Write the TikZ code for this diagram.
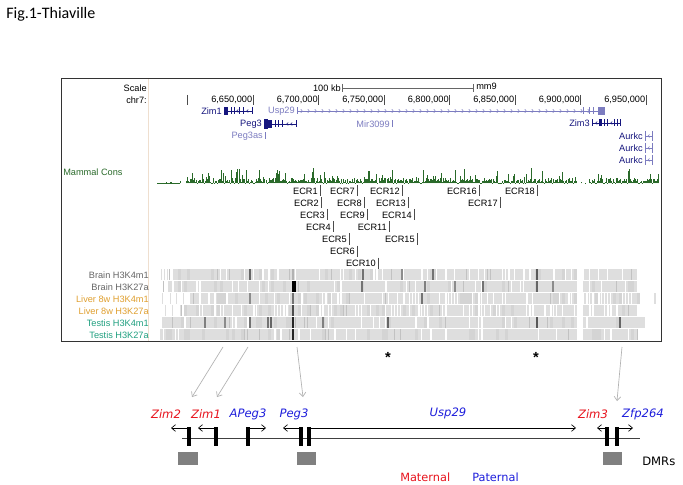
\documentclass[tikz,border=0pt]{standalone}
\usepackage{fontspec}
\setmainfont{Liberation Sans}
\newfontfamily\titlefont{Carlito}
\newfontfamily\verd{DejaVu Sans}
\usetikzlibrary{arrows.meta}
\definecolor{navy}{HTML}{16167E}
\definecolor{lpurp}{HTML}{7C7CC0}
\definecolor{consgreen}{HTML}{2A6A2A}
\definecolor{livercol}{HTML}{E0A030}
\definecolor{testiscol}{HTML}{20A080}
\definecolor{mred}{HTML}{E8141E}
\definecolor{pblue}{HTML}{1E1EDC}
\tikzset{
  brow/.style={font=\fontsize{6.9}{8}\selectfont, inner sep=0pt},
  ecr/.style={brow, anchor=east},
  ecrbar/.style={draw=black!70, line width=0.4pt},
  glabel/.style={font=\verd\itshape\fontsize{8.7}{10}\selectfont, inner sep=0pt},
  genebar/.style={line width=2.3pt, black},
  tss/.style={line width=0.5pt, black, -{Straight Barb[length=3pt,width=5pt]}},
  dmr/.style={fill=black!50, draw=none},
  pointer/.style={draw=black!30, line width=0.5pt, -{Straight Barb[length=3pt,width=5pt]}},
}
\begin{document}
\begin{tikzpicture}[x=0.75pt,y=-0.75pt]
\useasboundingbox (0,0) rectangle (683,485);
\fill[white] (0,0) rectangle (683,485);
% title
\node[anchor=west, inner sep=0pt, font=\titlefont\fontsize{12}{14}\selectfont] (title) at (6,14) {Fig.1-Thiaville};

% ---------- heat map tracks ----------
\pgfmathsetseed{4321}
\foreach \r/\th/\st in {0/22/172,1/14/168,2/40/190,3/42/186,4/16/162,5/12/160}{
  \fill[black!13] (\st, 269+12*\r) rectangle (637, 280+12*\r);
  \foreach \i in {0,...,159}{
    \pgfmathrandominteger{\v}{0}{100}
    \pgfmathsetmacro{\xx}{160+3*\i}
    \ifnum\v<\th
      \pgfmathsetmacro{\ww}{\v<\th/3 ? 2.2 : 1.1}
      \fill[white] (\xx, 269+12*\r) rectangle ++(\ww,11);
    \else
      \ifnum\v>96
        \fill[black!24] (\xx, 269+12*\r) rectangle ++(1.2,11);
      \else
        \ifnum\v>80
          \fill[black!17] (\xx, 269+12*\r) rectangle ++(2.5,11);
        \fi
      \fi
    \fi
  }
}
% sparse starts
\foreach \x/\r in {161/0,164/0,167/0,162/2,170/2,176/2,183/2,165/3,172/3,180/3}{
  \fill[black!13] (\x, 269+12*\r) rectangle ++(1.3,11);
}
% darker marks
\foreach \x/\r/\g in {250/0/60,363/0/55,402/0/45,433/0/55,537/0/65,293/0/30,
  293/1/100,295/1/100,362/1/55,425/1/50,455/1/45,483/1/55,537/1/60,553/1/45,
  293/2/55,250/2/45,422/2/55,
  293/3/70,
  205/4/50,225/4/45,250/4/55,268/4/55,271/4/60,293/4/85,323/4/50,388/4/60,537/4/65,620/4/60,
  293/5/85}{
  \fill[black!\g] (\x-0.6, 269+12*\r) rectangle ++(1.4,11);
}
\fill[black!100] (291.5,281) rectangle (295.5,292);
\fill[white] (577,268.5) rectangle (583,340.5);
\fill[black!13] (637,317) rectangle (645,328);
\fill[black!13] (654,293) rectangle (656,304);

% ---------- frame ----------
\draw[draw=black!80, line width=0.75pt] (61,79) rectangle (661,341);
\draw[draw=brown!25, line width=0.5pt] (148,79.5) -- (148,340.5);

% ---------- scale row ----------
\node[brow, anchor=east] (scalelab) at (147,88) {Scale};
\node[brow, anchor=east] (kb) at (341,88) {100 kb};
\coordinate (sbl) at (342,88);
\coordinate (sbr) at (473,88);
\draw[black!60, line width=0.4pt] (sbl) -- (sbr);
\draw[black!60, line width=0.4pt] (342,84) -- (342,92) (473,84) -- (473,92);
\node[brow, anchor=west] (mm9) at (476,86) {mm9};

% ---------- chr7 row ----------
\node[brow, anchor=east] (chrlab) at (147,100) {chr7:};
\draw[black!70, line width=0.4pt] (187,95) -- (187,105);
\foreach \k/\lab in {0/{6,650,000},1/{6,700,000},2/{6,750,000},3/{6,800,000},4/{6,850,000},5/{6,900,000},6/{6,950,000}}{
  \pgfmathsetmacro{\tx}{253+65.5*\k}
  \draw[black!70, line width=0.4pt] (\tx,95) -- (\tx,105);
  \node[brow, anchor=east] at (\tx-0.5,100) {\lab};
}

% ---------- genes ----------
% Zim1
\node[brow, anchor=east, text=navy] (zim1lab) at (222,111) {Zim1};
\fill[navy] (224,107) rectangle (228,115);
\draw[navy, line width=0.5pt] (228,111) -- (252,111);
\foreach \x in {231,234,239,243,252} \draw[navy, line width=0.5pt] (\x,107.5) -- (\x,114.5);
\foreach \x in {237,247} \draw[navy, line width=0.4pt] (\x+1.2,109.5) -- (\x-0.3,111) -- (\x+1.2,112.5);
% Usp29
\node[brow, anchor=east, text=lpurp] (usp29lab) at (295,111) {Usp29};
\draw[lpurp, line width=0.5pt] (297,111) -- (605,111);
\draw[lpurp, line width=0.5pt] (297,107.5) -- (297,114.5);
\foreach \x in {302,309,...,590} \draw[lpurp, line width=0.4pt] (\x-1.2,109.3) -- (\x+0.3,111) -- (\x-1.2,112.7);
\foreach \x in {583,589,593} \draw[lpurp, line width=0.5pt] (\x,107.5) -- (\x,114.5);
\fill[lpurp] (598,107) rectangle (605,115);
% Peg3
\node[brow, anchor=east, text=navy] (peg3lab) at (262,124) {Peg3};
\fill[navy] (264,119) rectangle (268,129);
\fill[navy] (268,120) rectangle (272,128);
\draw[navy, line width=0.5pt] (272,124) -- (296,124);
\foreach \x in {275,278,282,296} \draw[navy, line width=0.5pt] (\x,120.5) -- (\x,127.5);
\foreach \x in {287,291} \draw[navy, line width=0.4pt] (\x+1.2,122.5) -- (\x-0.3,124) -- (\x+1.2,125.5);
% Mir3099
\node[brow, anchor=east, text=lpurp] (mirlab) at (390,124) {Mir3099};
\draw[lpurp, line width=0.5pt] (392.5,120.5) -- (392.5,127.5);
% Peg3as
\node[brow, anchor=east, text=lpurp] (peg3aslab) at (263,136) {Peg3as};
\draw[lpurp, line width=0.5pt] (265.5,132.5) -- (265.5,139.5);
% Zim3
\node[brow, anchor=east, text=navy] (zim3lab) at (590,123) {Zim3};
\draw[navy, line width=0.5pt] (592,123) -- (620,123);
\fill[navy] (599,119.5) rectangle (602,126.5);
\foreach \x in {592,604,607,614,617,620} \draw[navy, line width=0.5pt] (\x,119.5) -- (\x,126.5);
\foreach \x in {596,611} \draw[navy, line width=0.4pt] (\x+1.2,121.5) -- (\x-0.3,123) -- (\x+1.2,124.5);
% Aurkc
\foreach \y in {136,148,160}{
  \node[brow, anchor=east, text=navy] at (643,\y) {Aurkc};
  \draw[lpurp, line width=0.5pt] (645,\y) -- (652,\y);
  \draw[lpurp, line width=0.6pt] (645,\y-5) -- (645,\y+5) (652,\y-5) -- (652,\y+5);
  \draw[lpurp, line width=0.4pt] (649.5,\y-1.5) -- (648,\y) -- (649.5,\y+1.5);
}

% ---------- Mammal Cons ----------
\node[brow, anchor=west, text=consgreen] (conslab) at (63,172) {Mammal Cons};
\pgfmathsetseed{99}
\foreach \i in {186,...,658}{
  \pgfmathrandominteger{\hh}{0}{100}
  \pgfmathsetmacro{\ht}{\hh<30 ? \hh/15 : (\hh<85 ? 2+(\hh-30)/16 : (\hh<96 ? 5.5+(\hh-85)/2.5 : 10+(\hh-96)*1.2))}
  \draw[consgreen, line width=0.45pt] (\i,183.5) -- ++(0,-\ht);
}
\fill[white] (577,165) rectangle (588,183.6);
\foreach \x/\h in {160/0.6,163/0.5,166/1,170/1.5,171/1,174/0.5,180/2,581/1,585/0.6} \draw[consgreen, line width=0.45pt] (\x,183.5) -- ++(0,-\h);
\draw[consgreen, line width=0.45pt] (157,183.5) -- (180,183.5);
\foreach \x/\h in {239/14,313/15,531/15,423/13,497/12} \draw[consgreen, line width=0.45pt] (\x,183.5) -- ++(0,-\h);

% ---------- ECR elements ----------
\foreach \n/\x/\y in {1/320/191,7/357/191,12/402/191,16/479/191,18/537/191,
  2/321/203,8/364/203,13/408/203,17/500/203,
  3/327/215,9/367/215,14/414/215,
  4/333/227,11/389/227,
  5/349/239,15/417/239,
  6/357/251,
  10/378/263}{
  \node[ecr] (ecr\n) at (\x-2,\y) {ECR\n};
  \draw[ecrbar] (\x,\y-5.5) -- (\x,\y+5.5);
}

% ---------- track labels ----------
\node[brow, anchor=east, text=black!60] (t1) at (149,275) {Brain H3K4m1};
\node[brow, anchor=east, text=black!60] (t2) at (149,287) {Brain H3K27a};
\node[brow, anchor=east, text=livercol] (t3) at (149,299) {Liver 8w H3K4m1};
\node[brow, anchor=east, text=livercol] (t4) at (149,311) {Liver 8w H3K27a};
\node[brow, anchor=east, text=testiscol] (t5) at (149,323) {Testis H3K4m1};
\node[brow, anchor=east, text=testiscol] (t6) at (149,335) {Testis H3K27a};

% ---------- asterisks ----------
\node[inner sep=0pt, font=\fontsize{11}{12}\selectfont\bfseries] (ast1) at (388,357) {*};
\node[inner sep=0pt, font=\fontsize{11}{12}\selectfont\bfseries] (ast2) at (536,357) {*};

% ---------- bottom map ----------
\node[glabel, text=mred] (gZim2) at (166,414) {Zim2};
\node[glabel, text=mred] (gZim1) at (206,414) {Zim1};
\node[glabel, text=pblue] (gAPeg3) at (248,414) {APeg3};
\node[glabel, text=pblue] (gPeg3) at (294,414) {Peg3};
\node[glabel, text=pblue] (gUsp29) at (448,413) {Usp29};
\node[glabel, text=mred] (gZim3) at (593,414) {Zim3};
\node[glabel, text=pblue] (gZfp264) at (643,414) {Zfp264};

\coordinate (chrL) at (182,438);
\coordinate (chrR) at (640,438);
\draw[black!75, line width=0.7pt] (chrL) -- (chrR);

\foreach \nm/\x in {bZim2/189,bZim1/216,bAPeg3/248,bPeg3a/301,bPeg3b/309,bZim3/607,bZfp/617}{
  \coordinate (\nm) at (\x,428);
  \draw[genebar] (\x,427) -- (\x,446);
}
\coordinate (aZim2) at (171,428);
\coordinate (aZim1) at (198,428);
\coordinate (aAPeg3) at (266,428);
\coordinate (aPeg3) at (283,428);
\coordinate (aUsp29) at (576,428);
\coordinate (aZim3) at (597,428);
\coordinate (aZfp) at (633,428);
\draw[tss] (bZim2) -- (aZim2);
\draw[tss] (bZim1) -- (aZim1);
\draw[tss] (bAPeg3) -- (aAPeg3);
\draw[tss] (bPeg3a) -- (aPeg3);
\draw[tss] (bPeg3b) -- (aUsp29);
\draw[tss] (bZim3) -- (aZim3);
\draw[tss] (bZfp) -- (aZfp);

\fill[dmr] (178,452) rectangle (198,465);
\fill[dmr] (297,452) rectangle (316,465);
\fill[dmr] (603,452) rectangle (622,465);
\node[inner sep=0pt, anchor=west, font=\verd\fontsize{8.7}{10}\selectfont] (dmrs) at (642,461) {DMRs};
\node[inner sep=0pt, anchor=west, text=mred, font=\verd\fontsize{8.5}{10}\selectfont] (mat) at (400,477) {Maternal};
\node[inner sep=0pt, anchor=west, text=pblue, font=\verd\fontsize{8.5}{10}\selectfont] (pat) at (472,477) {Paternal};

% ---------- pointers ----------
\coordinate (p1s) at (223,347);
\coordinate (p1e) at (192,397);
\coordinate (p2s) at (248,347);
\coordinate (p2e) at (217,397);
\coordinate (p3s) at (297,347);
\coordinate (p3e) at (303,397);
\coordinate (p4s) at (622,347);
\coordinate (p4e) at (617,401);
\draw[pointer] (p1s) -- (p1e);
\draw[pointer] (p2s) -- (p2e);
\draw[pointer] (p3s) -- (p3e);
\draw[pointer] (p4s) -- (p4e);
\end{tikzpicture}
\end{document}
